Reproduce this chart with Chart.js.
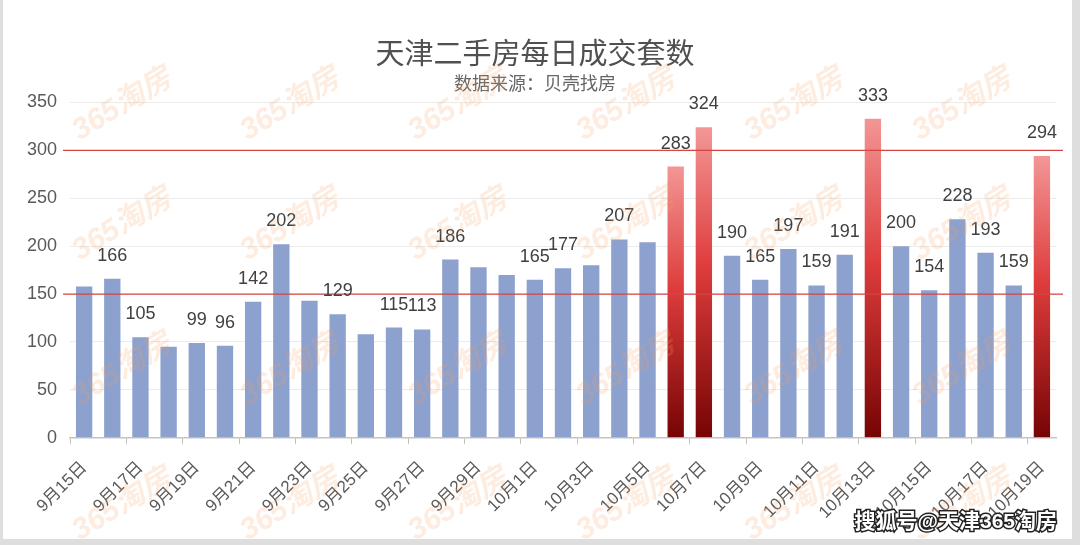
<!DOCTYPE html>
<html>
<head>
<meta charset="utf-8">
<script src="https://cdn.jsdelivr.net/npm/chart.js@4.4.1/dist/chart.umd.min.js"></script>
<style>
  html, body { margin: 0; padding: 0; background: #fff; }
  #wrap { width: 1080px; height: 545px; position: relative; }
</style>
</head>
<body>
<div id="wrap"><canvas id="deals-chart" width="1080" height="545"></canvas></div>
<script>
/**************************************************************
                   TIANJIN SECOND-HAND DAILY DEALS
***************************************************************/
let dayLabels = ["9月15日", "9月16日", "9月17日", "9月18日", "9月19日", "9月20日", "9月21日",
    "9月22日", "9月23日", "9月24日", "9月25日", "9月26日", "9月27日", "9月28日", "9月29日",
    "9月30日", "10月1日", "10月2日", "10月3日", "10月4日", "10月5日", "10月6日", "10月7日",
    "10月8日", "10月9日", "10月10日", "10月11日", "10月12日", "10月13日", "10月14日",
    "10月15日", "10月16日", "10月17日", "10月18日", "10月19日"]
let dealCounts = [158, 166, 105, 95, 99, 96, 142, 202, 143, 129, 108, 115, 113, 186, 178,
    170, 165, 177, 180, 207, 204, 283, 324, 190, 165, 197, 159, 191, 333, 200, 154, 228, 193, 159, 294]
// values printed above bars in the source (null = no label)
let shownValues = [null, 166, 105, null, 99, 96, 142, 202, null, 129, null, 115, 113, 186, null,
    null, 165, 177, null, 207, null, 283, 324, 190, 165, 197, 159, 191, 333, 200, 154, 228, 193, 159, 294]
let highlightDays = ["10月6日", "10月7日", "10月13日", "10月19日"]
let refLines = [150, 300]
let yTicks = [0, 50, 100, 150, 200, 250, 300, 350]

const FONT = "'Liberation Sans', 'Noto Sans CJK SC', sans-serif"
const BLUE = 'rgb(140, 161, 206)'

/*** bar colour: blue, or red gradient for highlighted days ***/
function barColor(ctx) {
    if (!highlightDays.includes(dayLabels[ctx.dataIndex])) return BLUE
    let chart = ctx.chart
    if (!chart.chartArea || !chart.scales.y) return 'rgb(210, 40, 40)'
    let y = chart.scales.y
    let top = y.getPixelForValue(ctx.raw)
    let bottom = y.getPixelForValue(0)
    let g = chart.ctx.createLinearGradient(0, top, 0, bottom)
    g.addColorStop(0, 'rgb(243, 150, 150)')
    g.addColorStop(0.45, 'rgb(222, 60, 60)')
    g.addColorStop(1, 'rgb(118, 4, 4)')
    return g
}

/*** frame, reference lines, value labels and watermarks ***/
let decorPlugin = {
    id: 'decor',
    beforeDraw(chart) {
        let c = chart.ctx
        c.save()
        c.fillStyle = '#ffffff'
        c.fillRect(0, 0, chart.width, chart.height)
        c.fillStyle = '#dedede'
        c.fillRect(0, 0, 3, chart.height)
        c.fillRect(chart.width - 8, 0, 8, chart.height)
        c.fillRect(0, chart.height - 6, chart.width, 6)
        c.restore()
    },
    afterDatasetsDraw(chart) {
        let c = chart.ctx
        let y = chart.scales.y
        let area = chart.chartArea
        c.save()
        c.strokeStyle = '#d64545'
        c.lineWidth = 1.3
        refLines.forEach(v => {
            let py = y.getPixelForValue(v)
            c.beginPath()
            c.moveTo(area.left - 7, py)
            c.lineTo(area.right + 7, py)
            c.stroke()
        })
        let meta = chart.getDatasetMeta(0)
        c.fillStyle = '#404040'
        c.font = '18px ' + FONT
        c.textAlign = 'center'
        c.textBaseline = 'bottom'
        meta.data.forEach((bar, i) => {
            if (shownValues[i] == null) return
            c.fillText(String(shownValues[i]), bar.x, bar.y - 14)
        })
        c.restore()
    },
    afterDraw(chart) {
        let c = chart.ctx
        c.save()
        // watermark
        c.font = 'bold italic 30px ' + FONT
        c.fillStyle = 'rgba(244, 160, 95, 0.2)'
        c.textAlign = 'center'
        c.textBaseline = 'middle'
        let rows = [105, 225, 370, 505]
        rows.forEach(ry => {
            for (let k = 0; k < 6; k++) {
                c.save()
                c.translate(122 + k * 168, ry)
                c.rotate(-0.55)
                c.fillText('365淘房', 0, 0)
                c.restore()
            }
        })
        // source tag
        c.font = 'bold 21px ' + FONT
        c.textAlign = 'right'
        c.textBaseline = 'alphabetic'
        c.lineWidth = 3
        c.strokeStyle = '#222'
        c.strokeText('搜狐号@天津365淘房', 1057, 528)
        c.fillStyle = '#ffffff'
        c.fillText('搜狐号@天津365淘房', 1057, 528)
        c.restore()
    }
}

let dealsCanvas = document.getElementById('deals-chart').getContext('2d')
let dealsConfig = {
    type: 'bar',
    data: {
        labels: dayLabels,
        datasets: [{
            data: dealCounts,
            backgroundColor: barColor,
            barPercentage: 0.58,
            categoryPercentage: 1.0
        }]
    },
    options: {
        responsive: false,
        animation: false,
        layout: { padding: { left: 14, right: 24, top: 0, bottom: 8 } },
        plugins: {
            legend: { display: false },
            tooltip: { enabled: false },
            title: {
                display: true,
                text: '天津二手房每日成交套数',
                color: '#505050',
                font: { family: FONT, size: 29, weight: 'normal' },
                padding: { top: 39, bottom: 0 }
            },
            subtitle: {
                display: true,
                text: '数据来源：贝壳找房',
                color: '#666666',
                font: { family: FONT, size: 18, weight: 'normal' },
                padding: { top: 0, bottom: 7 }
            }
        },
        scales: {
            x: {
                grid: {
                    drawOnChartArea: false,
                    drawTicks: true,
                    tickLength: 6,
                    color: ctx => (ctx.index % 2 === 0 ? '#bdbdbd' : 'rgba(0,0,0,0)')
                },
                border: { display: true, color: '#c4c4c4', width: 1.5 },
                ticks: {
                    autoSkip: false,
                    maxRotation: 45,
                    minRotation: 45,
                    color: '#5a5a5a',
                    font: { family: FONT, size: 17 },
                    padding: 14,
                    callback: (v, i) => (i % 2 === 0 ? dayLabels[i] : '')
                }
            },
            y: {
                min: 0,
                max: 350,
                afterBuildTicks: axis => { axis.ticks = yTicks.map(v => ({ value: v })) },
                grid: { color: '#ececec', drawTicks: false },
                border: { display: false },
                ticks: {
                    color: '#5a5a5a',
                    font: { family: FONT, size: 18 },
                    padding: 13
                }
            }
        }
    },
    plugins: [decorPlugin]
}

/*** Create new instance of chart using deals canvas and config object ***/
let dealsChart = new Chart(dealsCanvas, dealsConfig);
</script>
</body>
</html>
